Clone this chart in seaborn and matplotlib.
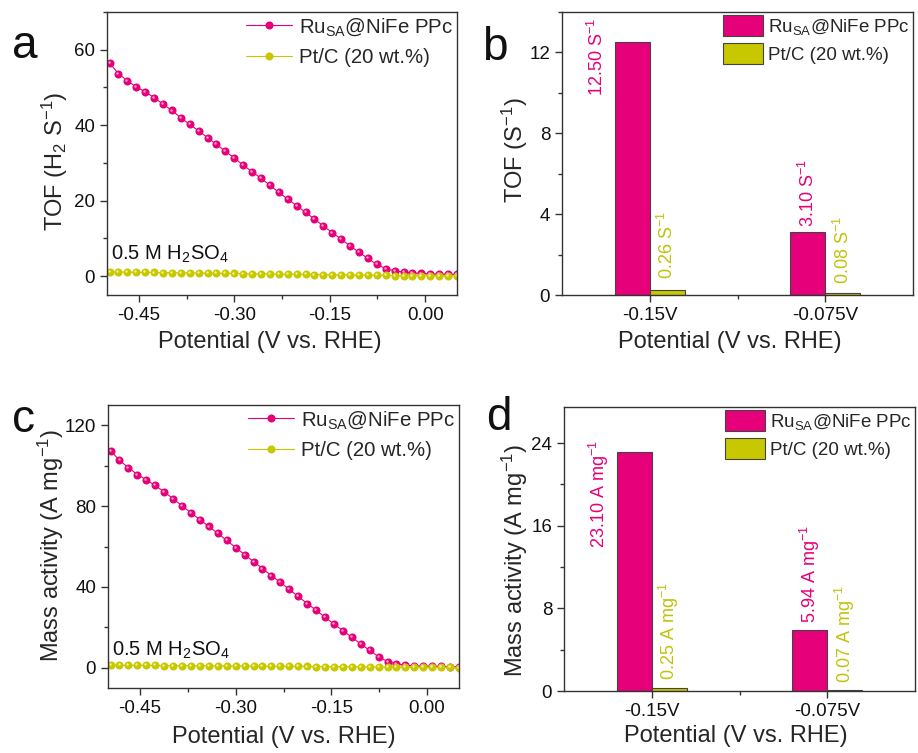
import numpy as np
import pandas as pd
import matplotlib
matplotlib.use("Agg")
import matplotlib.pyplot as plt
import seaborn as sns
from matplotlib.ticker import MultipleLocator, FixedLocator
from matplotlib.transforms import offset_copy
from matplotlib.lines import Line2D

# ---------------- data ----------------
potential = [-0.496, -0.482, -0.468, -0.454, -0.440, -0.426, -0.412, -0.398, -0.384, -0.370,
             -0.356, -0.342, -0.328, -0.314, -0.300, -0.286, -0.272, -0.258, -0.244, -0.230,
             -0.216, -0.202, -0.188, -0.174, -0.160, -0.146, -0.132, -0.118, -0.104, -0.090,
             -0.076, -0.062, -0.048, -0.034, -0.020, -0.006, 0.008, 0.022, 0.036, 0.050]

tof_ru = [56.4, 53.7, 51.8, 50.1, 48.9, 47.3, 45.6, 43.9, 42.0, 40.2,
          38.5, 36.7, 34.9, 33.1, 31.3, 29.4, 27.7, 25.9, 24.1, 22.2,
          20.4, 18.7, 16.9, 15.1, 13.3, 11.5, 9.8, 8.0, 6.3, 4.7,
          3.1, 2.0, 1.4, 1.1, 0.9, 0.7, 0.6, 0.5, 0.5, 0.45]
tof_pt = [1.1, 1.08, 1.05, 1.02, 1.0, 0.97, 0.94, 0.91, 0.88, 0.85,
          0.82, 0.79, 0.76, 0.73, 0.70, 0.67, 0.64, 0.61, 0.58, 0.55,
          0.52, 0.49, 0.46, 0.43, 0.40, 0.37, 0.34, 0.31, 0.28, 0.25,
          0.22, 0.19, 0.16, 0.14, 0.12, 0.10, 0.08, 0.07, 0.06, 0.05]

ma_ru = [107.4, 102.6, 99.0, 95.6, 93.0, 90.2, 87.0, 83.7, 80.1, 76.7,
         73.3, 69.9, 66.5, 63.0, 59.5, 56.0, 52.5, 49.1, 45.6, 42.3,
         38.8, 35.3, 31.8, 28.5, 25.0, 21.7, 18.4, 15.1, 11.8, 8.6,
         5.5, 3.1, 2.0, 1.3, 1.0, 0.8, 0.7, 0.7, 0.5, 0.5]
ma_pt = [1.3, 1.27, 1.24, 1.21, 1.18, 1.15, 1.12, 1.09, 1.06, 1.03,
         1.0, 0.97, 0.94, 0.91, 0.88, 0.85, 0.82, 0.79, 0.76, 0.73,
         0.70, 0.67, 0.64, 0.61, 0.58, 0.55, 0.52, 0.49, 0.46, 0.43,
         0.40, 0.37, 0.34, 0.31, 0.28, 0.25, 0.22, 0.19, 0.16, 0.13]

bar_categories = ["-0.15V", "-0.075V"]
tof_bar_ru = [12.50, 3.10]
tof_bar_pt = [0.26, 0.08]
ma_bar_ru = [23.10, 5.94]
ma_bar_pt = [0.25, 0.07]

series_names = ["Ru$_{\\mathrm{SA}}$@NiFe PPc", "Pt/C (20 wt.%)"]

# ---------------- style ----------------
sns.set_theme(style="ticks")
plt.rcParams["font.family"] = ["Liberation Sans", "DejaVu Sans"]
plt.rcParams["mathtext.fontset"] = "custom"
plt.rcParams["mathtext.rm"] = "Liberation Sans"
plt.rcParams["mathtext.it"] = "Liberation Sans"
plt.rcParams["mathtext.default"] = "regular"
plt.rcParams["axes.edgecolor"] = "#333333"
plt.rcParams["axes.linewidth"] = 1.0
plt.rcParams["xtick.color"] = "#333333"
plt.rcParams["ytick.color"] = "#333333"
plt.rcParams["xtick.labelcolor"] = "#111111"
plt.rcParams["ytick.labelcolor"] = "#111111"

PINK = "#E6007A"
PINK_LIGHT = "#FF9ACB"
YEL = "#C8C800"
YEL_LIGHT = "#F2F28A"
YEL_TXT = "#C2C20A"

W, H = 918, 753
fig = plt.figure(figsize=(W / 100, H / 100), dpi=100)

def box(l, r, t, b):
    return [l / W, 1 - b / H, (r - l) / W, (b - t) / H]

axA = fig.add_axes(box(107, 457, 12, 295))
axB = fig.add_axes(box(562, 913, 12, 295))
axC = fig.add_axes(box(108, 459, 405, 688))
axD = fig.add_axes(box(564, 915, 407, 691))

TICK_FS = 13.5
LABEL_FS = 17


def style_axis(ax):
    for s in ax.spines.values():
        s.set_visible(True)
        s.set_color("#333333")
    ax.tick_params(which="major", direction="out", length=5, width=1.0, labelsize=TICK_FS,
                   top=False, right=False)
    ax.tick_params(which="minor", direction="out", length=3, width=1.0, top=False, right=False)


def set_labels(ax, xlab, ylab, xl_coords, yl_coords):
    ax.set_xlabel(xlab, fontsize=LABEL_FS)
    ax.set_ylabel(ylab, fontsize=LABEL_FS)
    ax.xaxis.set_label_coords(*xl_coords)
    ax.yaxis.set_label_coords(*yl_coords)


def line_panel(ax, yru, ypt, ylim, ymaj, ymin, ylabel, note_y, xl_coords, yl_coords):
    df = pd.DataFrame({
        "Potential": potential * 2,
        "value": list(yru) + list(ypt),
        "Sample": [series_names[0]] * len(potential) + [series_names[1]] * len(potential),
    })
    sns.lineplot(data=df, x="Potential", y="value", hue="Sample",
                 palette={series_names[0]: PINK, series_names[1]: YEL},
                 marker="o", markersize=5.8, markeredgewidth=0, linewidth=0.8,
                 ax=ax, legend=False, sort=False)
    # highlight dots to mimic the shaded spheres
    tr = offset_copy(ax.transData, fig=fig, x=-0.7, y=0.7, units="points")
    ax.plot(potential, yru, ls="none", marker="o", ms=1.8, mew=0, color=PINK_LIGHT, transform=tr)
    ax.plot(potential, ypt, ls="none", marker="o", ms=1.8, mew=0, color=YEL_LIGHT, transform=tr)
    ax.set_xlim(-0.5, 0.05)
    ax.set_ylim(*ylim)
    ax.xaxis.set_major_locator(FixedLocator([-0.45, -0.30, -0.15, 0.0]))
    ax.xaxis.set_minor_locator(FixedLocator([-0.375, -0.225, -0.075]))
    ax.set_xticklabels(["-0.45", "-0.30", "-0.15", "0.00"])
    ax.yaxis.set_major_locator(MultipleLocator(ymaj))
    ax.yaxis.set_minor_locator(MultipleLocator(ymin))
    set_labels(ax, "Potential (V vs. RHE)", ylabel, xl_coords, yl_coords)
    style_axis(ax)
    ax.text(-0.494, note_y, "0.5 M H$_2$SO$_4$", fontsize=14.5, ha="left", va="bottom", color="#111111")
    handles = [Line2D([], [], color=PINK, lw=0.8, marker="o", ms=5.8, mew=0),
               Line2D([], [], color=YEL, lw=0.8, marker="o", ms=5.8, mew=0)]
    ax.legend(handles, series_names, loc="upper right", frameon=False, fontsize=14.7,
              handlelength=2.25, handletextpad=0.35, borderaxespad=0.0, borderpad=0.2,
              labelspacing=0.5)


def bar_panel(ax, yru, ypt, ylim, ymaj, ymin, ylabel, labels, xl_coords, yl_coords):
    df = pd.DataFrame({
        "Potential": bar_categories * 2,
        "value": list(yru) + list(ypt),
        "Sample": [series_names[0]] * 2 + [series_names[1]] * 2,
    })
    sns.barplot(data=df, x="Potential", y="value", hue="Sample",
                palette={series_names[0]: PINK, series_names[1]: YEL},
                width=0.4, edgecolor="#444444", linewidth=0.8, saturation=1, ax=ax)
    ax.set_xlim(-0.5, 1.5)
    ax.set_ylim(*ylim)
    ax.xaxis.set_minor_locator(FixedLocator([0.5]))
    ax.yaxis.set_major_locator(MultipleLocator(ymaj))
    ax.yaxis.set_minor_locator(MultipleLocator(ymin))
    set_labels(ax, "Potential (V vs. RHE)", ylabel, xl_coords, yl_coords)
    style_axis(ax)
    ax.legend(loc="upper right", frameon=False, fontsize=13.5, handlelength=2.1,
              handleheight=1.4, handletextpad=0.3, borderaxespad=0.0, borderpad=0.15,
              labelspacing=0.3)
    for (x, y, txt, col, va) in labels:
        ax.text(x, y, txt, rotation=90, ha="center", va=va, color=col, fontsize=13)


line_panel(axA, tof_ru, tof_pt, (-5, 70), 20, 10, "TOF (H$_2$ S$^{-1}$)", 3.0,
           (0.466, -0.127), (-0.105, 0.473))
line_panel(axC, ma_ru, ma_pt, (-10, 130), 40, 20, "Mass activity (A mg$^{-1}$)", 3.2,
           (0.502, -0.134), (-0.12, 0.505))

bar_panel(axB, tof_bar_ru, tof_bar_pt, (0, 14), 4, 2, "TOF (S$^{-1}$)", [
    (-0.30, 13.7, f"{tof_bar_ru[0]:.2f} S$^{{-1}}$", PINK, "top"),
    (0.10, tof_bar_pt[0] + 0.55, f"{tof_bar_pt[0]:.2f} S$^{{-1}}$", YEL_TXT, "bottom"),
    (0.90, tof_bar_ru[1] + 0.25, f"{tof_bar_ru[1]:.2f} S$^{{-1}}$", PINK, "bottom"),
    (1.10, tof_bar_pt[1] + 0.45, f"{tof_bar_pt[1]:.2f} S$^{{-1}}$", YEL_TXT, "bottom"),
], (0.477, -0.127), (-0.092, 0.512))
bar_panel(axD, ma_bar_ru, ma_bar_pt, (0, 27.5), 8, 4, "Mass activity (A mg$^{-1}$)", [
    (-0.30, 24.3, f"{ma_bar_ru[0]:.2f} A mg$^{{-1}}$", PINK, "top"),
    (0.10, ma_bar_pt[0] + 0.8, f"{ma_bar_pt[0]:.2f} A mg$^{{-1}}$", YEL_TXT, "bottom"),
    (0.90, ma_bar_ru[1] + 0.65, f"{ma_bar_ru[1]:.2f} A mg$^{{-1}}$", PINK, "bottom"),
    (1.10, ma_bar_pt[1] + 0.75, f"{ma_bar_pt[1]:.2f} A mg$^{{-1}}$", YEL_TXT, "bottom"),
], (0.489, -0.120), (-0.097, 0.461))

# panel letters
for (px, py, letter) in [(12, 58, "a"), (482, 60, "b"), (12, 432, "c"), (486, 430, "d")]:
    fig.text(px / W, 1 - py / H, letter, fontsize=33, ha="left", va="baseline", color="#111111")

fig.savefig("out.png", dpi=100)
